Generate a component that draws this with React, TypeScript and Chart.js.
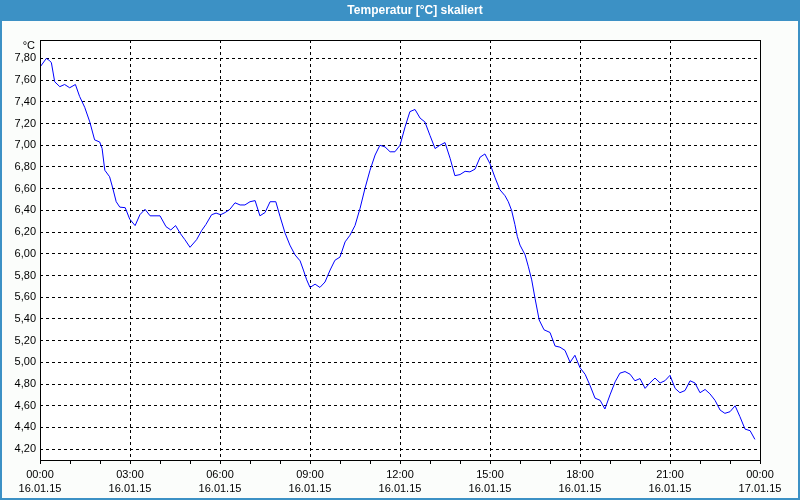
import React, { useEffect, useRef } from 'react';
import { Chart, registerables } from 'chart.js';

Chart.register(...registerables);

const title = 'Temperatur [°C] skaliert';
const unitLabel = '°C';

const hours = [
  0.0, 0.21, 0.32, 0.38, 0.49, 0.66, 0.82, 0.99, 1.18, 1.32, 1.49, 1.66, 1.82, 1.99, 2.07, 2.16, 2.32, 2.43, 2.54, 2.66, 2.84, 2.99,
  3.17, 3.33, 3.5, 3.67, 4.0, 4.2, 4.36, 4.52, 4.67, 4.83, 5.0, 5.22, 5.39, 5.53, 5.72, 5.87,
  6.02, 6.17, 6.33, 6.5, 6.67, 6.83, 7.0, 7.17, 7.33, 7.5, 7.67, 7.86, 8.0, 8.17, 8.33, 8.5, 8.67, 8.78, 8.89,
  9.0, 9.17, 9.33, 9.5, 9.67, 9.83, 10.0, 10.17, 10.33, 10.5, 10.67, 10.83, 11.0, 11.17, 11.33, 11.5, 11.67, 11.83,
  12.0, 12.17, 12.33, 12.5, 12.67, 12.83, 13.0, 13.17, 13.33, 13.5, 13.67, 13.83, 14.0, 14.17, 14.33, 14.5, 14.67, 14.83,
  15.0, 15.17, 15.33, 15.5, 15.61, 15.72, 15.83, 15.91, 16.0, 16.17, 16.28, 16.39, 16.5, 16.64, 16.8, 17.0, 17.17, 17.33, 17.5, 17.67, 17.83,
  18.0, 18.17, 18.33, 18.5, 18.67, 18.83, 19.0, 19.17, 19.33, 19.5, 19.67, 19.83, 20.0, 20.17, 20.33, 20.5, 20.67, 20.83,
  21.0, 21.17, 21.33, 21.5, 21.67, 21.83, 22.0, 22.17, 22.33, 22.5, 22.67, 22.83, 23.0, 23.17, 23.33, 23.5, 23.67, 23.83,
];

const temps = [
  7.72, 7.80, 7.78, 7.76, 7.585, 7.54, 7.56, 7.53, 7.56, 7.45, 7.35, 7.215, 7.05, 7.03, 6.97, 6.77, 6.71, 6.60, 6.48, 6.43, 6.425, 6.32,
  6.26, 6.36, 6.41, 6.35, 6.35, 6.25, 6.22, 6.26, 6.19, 6.13, 6.06, 6.13, 6.215, 6.27, 6.36, 6.375,
  6.36, 6.38, 6.41, 6.47, 6.45, 6.45, 6.48, 6.49, 6.35, 6.38, 6.48, 6.48, 6.345, 6.19, 6.08, 5.99, 5.935, 5.85, 5.76,
  5.69, 5.72, 5.69, 5.74, 5.85, 5.94, 5.97, 6.11, 6.17, 6.26, 6.42, 6.60, 6.77, 6.91, 7.00, 6.985, 6.94, 6.94,
  7.00, 7.17, 7.31, 7.33, 7.25, 7.215, 7.09, 6.97, 7.00, 7.025, 6.88, 6.72, 6.73, 6.76, 6.755, 6.78, 6.89, 6.92,
  6.83, 6.70, 6.59, 6.535, 6.48, 6.40, 6.27, 6.16, 6.08, 5.99, 5.88, 5.76, 5.59, 5.39, 5.30, 5.275, 5.15, 5.14, 5.11, 5.00, 5.065,
  4.95, 4.89, 4.79, 4.67, 4.65, 4.57, 4.70, 4.82, 4.90, 4.915, 4.89, 4.83, 4.85, 4.76, 4.81, 4.855, 4.81, 4.83,
  4.88, 4.76, 4.72, 4.74, 4.83, 4.81, 4.72, 4.75, 4.71, 4.65, 4.56, 4.53, 4.545, 4.60, 4.50, 4.385, 4.37, 4.29,
];

const xTickHours = [0, 3, 6, 9, 12, 15, 18, 21, 24];
const xTickTimes = ['00:00', '03:00', '06:00', '09:00', '12:00', '15:00', '18:00', '21:00', '00:00'];
const xTickDates = ['16.01.15', '16.01.15', '16.01.15', '16.01.15', '16.01.15', '16.01.15', '16.01.15', '16.01.15', '17.01.15'];
const xMinorHours = Array.from({ length: 25 }, (_, i) => i);
const yTicks = [4.2, 4.4, 4.6, 4.8, 5.0, 5.2, 5.4, 5.6, 5.8, 6.0, 6.2, 6.4, 6.6, 6.8, 7.0, 7.2, 7.4, 7.6, 7.8];

const FONT = '"Liberation Sans", Arial, sans-serif';

export default function App() {
  const ref = useRef<HTMLCanvasElement>(null);

  useEffect(() => {
    document.body.style.margin = '0';
    const canvas = ref.current;
    if (!canvas) return;

    const framePlugin = {
      id: 'frame',
      beforeDraw(chart: any) {
        const { ctx, width, height, chartArea } = chart;
        ctx.save();
        ctx.fillStyle = '#3c91c5';
        ctx.fillRect(0, 0, width, height);
        ctx.fillStyle = '#fbfdfb';
        ctx.fillRect(2, 21, width - 4, height - 23);
        ctx.fillStyle = '#ffffff';
        ctx.fillRect(chartArea.left, chartArea.top, chartArea.right - chartArea.left, chartArea.bottom - chartArea.top);
        ctx.fillStyle = '#ffffff';
        ctx.font = 'bold 12px ' + FONT;
        ctx.textAlign = 'center';
        ctx.textBaseline = 'middle';
        ctx.fillText(title, 415, 10.5);
        ctx.restore();
      },
      afterDraw(chart: any) {
        const { ctx, chartArea } = chart;
        ctx.save();
        ctx.strokeStyle = '#000000';
        ctx.lineWidth = 1;
        ctx.strokeRect(chartArea.left + 0.5, chartArea.top + 0.5, chartArea.right - chartArea.left, chartArea.bottom - chartArea.top);
        ctx.fillStyle = '#000000';
        ctx.font = '11px ' + FONT;
        ctx.textAlign = 'right';
        ctx.textBaseline = 'middle';
        ctx.fillText(unitLabel, chartArea.left - 5, chartArea.top + 6);
        ctx.restore();
      },
    };

    const chart = new Chart(canvas, {
      type: 'line',
      data: {
        datasets: [
          {
            data: hours.map((h, i) => ({ x: h, y: temps[i] })),
            borderColor: '#0000ff',
            borderWidth: 1,
            pointRadius: 0,
            tension: 0,
            fill: false,
          },
        ],
      },
      options: {
        responsive: false,
        animation: false,
        devicePixelRatio: 1,
        layout: { padding: { top: 40, right: 40, left: 0, bottom: 0 } },
        plugins: { legend: { display: false }, title: { display: false }, tooltip: { enabled: false } },
        scales: {
          x: {
            type: 'linear',
            min: 0,
            max: 24,
            afterFit(scale: any) {
              scale.height = 40;
            },
            afterBuildTicks(scale: any) {
              scale.ticks = xMinorHours.map((v) => ({ value: v }));
            },
            ticks: {
              autoSkip: false,
              maxRotation: 0,
              minRotation: 0,
              padding: 4,
              color: '#000000',
              font: { family: FONT, size: 11, lineHeight: '14px' as any },
              callback: (v: any) => {
                const i = xTickHours.indexOf(Number(v));
                return i >= 0 ? [xTickTimes[i], xTickDates[i]] : '';
              },
            },
            grid: {
              color: (c: any) =>
                c.tick && c.tick.value % 3 === 0 && c.tick.value > 0 && c.tick.value < 24 ? '#000000' : 'rgba(0,0,0,0)',
              tickColor: '#000000',
              tickLength: 4,
            },
            border: { display: false, dash: [3, 3] },
          },
          y: {
            type: 'linear',
            min: 4.1,
            max: 7.97,
            afterFit(scale: any) {
              scale.width = 40;
            },
            afterBuildTicks(scale: any) {
              scale.ticks = yTicks.map((v) => ({ value: v }));
            },
            ticks: {
              padding: 4,
              color: '#000000',
              font: { family: FONT, size: 11 },
              callback: (v: any) => Number(v).toFixed(2).replace('.', ','),
            },
            grid: { color: '#000000', drawTicks: false },
            border: { display: false, dash: [3, 3] },
          },
        },
      },
      plugins: [framePlugin],
    });

    return () => chart.destroy();
  }, []);

  return (
    <div style={{ width: 800, height: 500 }}>
      <canvas ref={ref} width={800} height={500} style={{ display: 'block', width: 800, height: 500 }} />
    </div>
  );
}
